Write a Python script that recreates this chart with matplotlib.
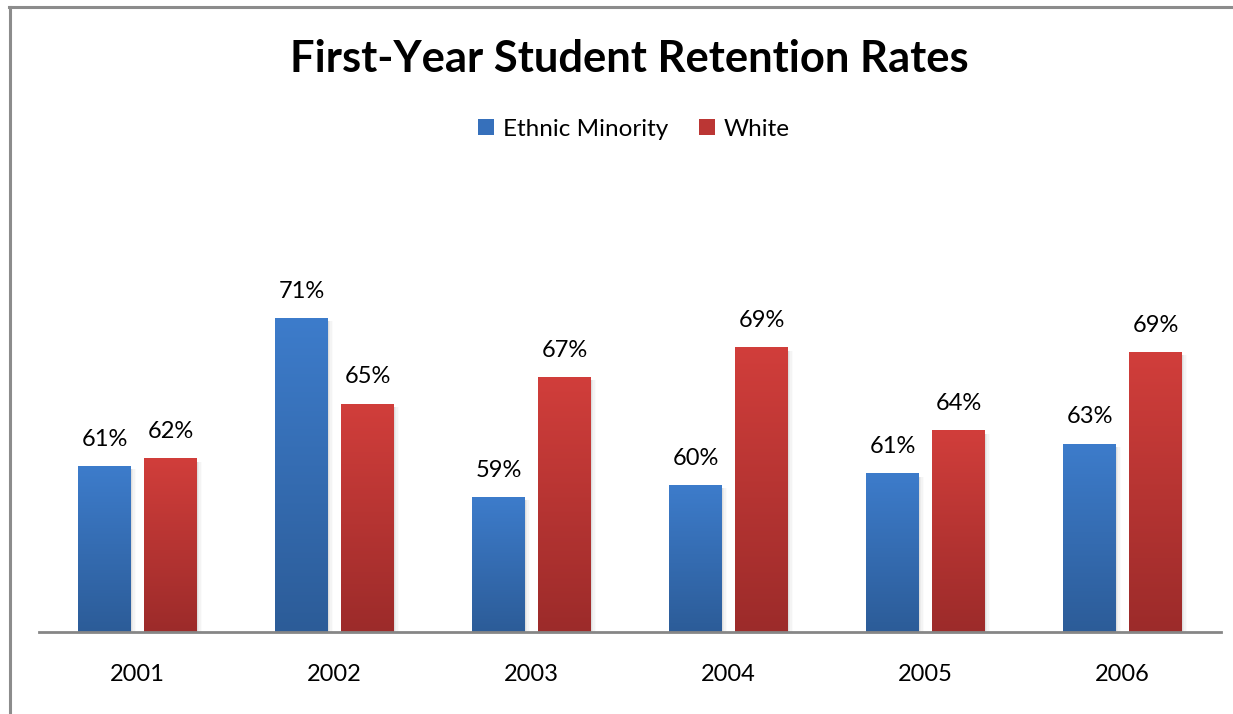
import numpy as np
import matplotlib
matplotlib.use("Agg")
import matplotlib.pyplot as plt
from matplotlib.colors import LinearSegmentedColormap
from matplotlib.patches import Patch
from matplotlib.lines import Line2D

plt.rcParams['font.family'] = ['Lato', 'DejaVu Sans']

years = ["2001", "2002", "2003", "2004", "2005", "2006"]
minority = [0.612, 0.712, 0.591, 0.599, 0.607, 0.627]
white = [0.617, 0.654, 0.672, 0.692, 0.636, 0.689]

W, H = 1233, 714
fig = plt.figure(figsize=(W / 100, H / 100), dpi=100)
fig.patch.set_facecolor("white")

# plot area: baseline at y=632 px, 14.8 px per percentage point
ax = fig.add_axes([39 / W, (H - 632) / H, 1182 / W, 444 / H])
ax.set_xlim(-0.5, len(years) - 0.5)
ax.set_ylim(0.5, 0.8)
ax.set_autoscale_on(False)

blue_cm = LinearSegmentedColormap.from_list("blue", ["#2c5c98", "#3d7ccb"])
red_cm = LinearSegmentedColormap.from_list("red", ["#9c2b2a", "#d13e3b"])

x = np.arange(len(years))
width = 0.269
offset = 0.1675
grad = np.linspace(0, 1, 256).reshape(-1, 1)


def gradient_bars(xpos, vals, cmap):
    bars = ax.bar(xpos, np.array(vals) - 0.5, width, bottom=0.5,
                  color="none", edgecolor="none", zorder=2)
    for b in bars:
        x0, y0 = b.get_x(), b.get_y()
        x1, y1 = x0 + b.get_width(), y0 + b.get_height()
        # soft shadow on the right side
        for k, a in enumerate([0.10, 0.07, 0.045, 0.025]):
            d = 0.006 * (k + 1)
            ax.add_patch(plt.Rectangle((x0 + d, y0), x1 - x0, y1 - y0 - 0.002,
                                       facecolor="#707070", edgecolor="none",
                                       alpha=a, zorder=1))
        ax.imshow(grad, extent=[x0, x1, y0, y1], origin="lower", cmap=cmap,
                  aspect="auto", interpolation="bilinear", zorder=2)
    return bars


bars_m = gradient_bars(x - offset, minority, blue_cm)
bars_w = gradient_bars(x + offset, white, red_cm)

for bars, vals in [(bars_m, minority), (bars_w, white)]:
    for b, v in zip(bars, vals):
        ax.annotate(f"{v:.0%}", (b.get_x() + b.get_width() / 2, v),
                    xytext=(0, 12), textcoords="offset points",
                    ha="center", va="bottom", fontsize=17, color="black")

ax.set_xticks(x)
ax.set_xticklabels(years, fontsize=17)
ax.tick_params(axis="x", length=0, pad=23)
ax.set_yticks([])
for s in ["top", "right", "left"]:
    ax.spines[s].set_visible(False)
ax.spines["bottom"].set_color("#868686")
ax.spines["bottom"].set_linewidth(2)
ax.spines["bottom"].set_zorder(5)
ax.patch.set_visible(False)

fig.text(629 / W, 1 - 59 / H, "First-Year Student Retention Rates",
         ha="center", va="center", fontsize=31.3, fontweight="bold")

handles = [Patch(facecolor="#3670bb", edgecolor="none", label="Ethnic Minority"),
           Patch(facecolor="#bb3634", edgecolor="none", label="White")]
fig.legend(handles=handles, loc="center", bbox_to_anchor=(634 / W, 1 - 129 / H),
           ncol=2, frameon=False, fontsize=17.5, handlelength=0.65, handleheight=0.65,
           handletextpad=0.35, columnspacing=1.3)

# chart frame (left and top edges)
fig.add_artist(Line2D([10 / W, 10 / W], [0, 1 - 7 / H], transform=fig.transFigure,
                      color="#8c8c8c", linewidth=2.2))
fig.add_artist(Line2D([9 / W, 1], [1 - 7 / H, 1 - 7 / H], transform=fig.transFigure,
                      color="#8c8c8c", linewidth=2.2))

fig.savefig("out.png", dpi=100)
